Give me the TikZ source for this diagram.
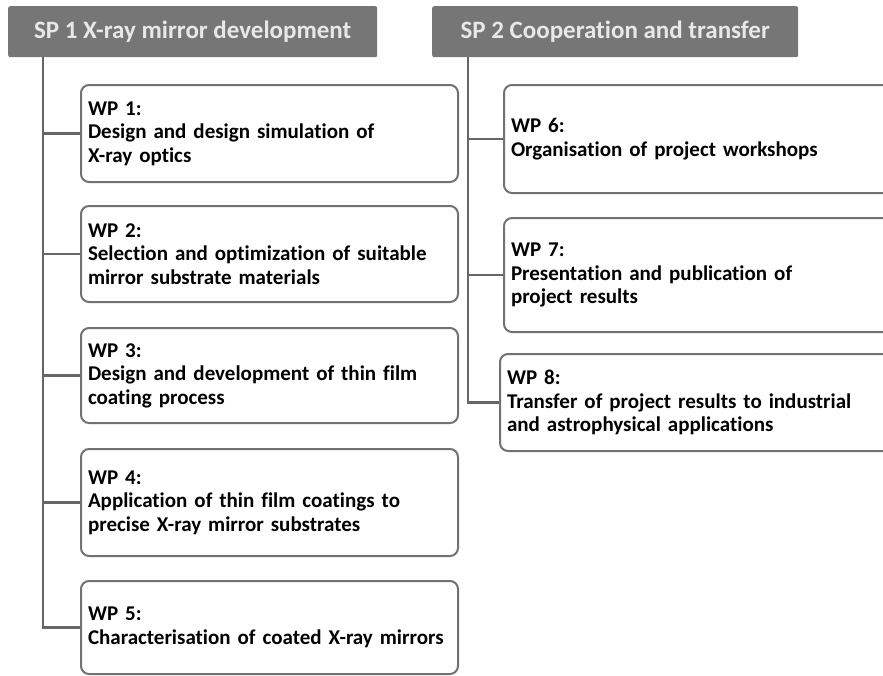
\documentclass[tikz,border=0pt]{standalone}
\usepackage{fontspec}
\setmainfont{Carlito}[Ligatures={NoCommon}]
\begin{document}
\begin{tikzpicture}[x=1pt,y=-1pt,
  header/.style={fill=hdrgray, rounded corners=2pt, anchor=north west, inner sep=0pt,
    font=\fontsize{25}{29}\selectfont\bfseries, text=hdrtext},
  wpbox/.style={draw=boxgray, line width=2pt, rounded corners=8pt, fill=white,
    anchor=north west, inner xsep=7pt, inner ysep=0pt, align=left,
    font=\fontsize{21}{23.5}\selectfont\bfseries, text=black},
  conn/.style={draw=linegray, line width=2.4pt}]
\definecolor{hdrgray}{HTML}{767676}
\definecolor{hdrtext}{HTML}{E8E8E8}
\definecolor{boxgray}{HTML}{727272}
\definecolor{linegray}{HTML}{666666}
\useasboundingbox (0,0) rectangle (883,675);
\clip (0,0) rectangle (883,675);
% headers
\node[header, minimum width=369pt, minimum height=51pt] (sp1) at (8,6) {SP 1 X-ray mirror development};
\node[header, minimum width=366pt, minimum height=51pt] (sp2) at (432,6) {SP 2 Cooperation and transfer};
% left boxes
\node[wpbox, minimum width=377pt, minimum height=97pt, text width=363pt] (wp1) at (80,84) {WP 1:\\Design and design simulation of\\X-ray optics};
\node[wpbox, minimum width=377pt, minimum height=96pt, text width=363pt] (wp2) at (80,205) {WP 2:\\Selection and optimization of suitable\\mirror substrate materials};
\node[wpbox, minimum width=377pt, minimum height=95pt, text width=363pt] (wp3) at (80,327) {WP 3:\\Design and development of thin film\\coating process};
\node[wpbox, minimum width=377pt, minimum height=107pt, text width=363pt] (wp4) at (80,448) {WP 4:\\Application of thin film coatings to\\precise X-ray mirror substrates};
\node[wpbox, minimum width=377pt, minimum height=93pt, text width=363pt] (wp5) at (80,580) {WP 5:\\Characterisation of coated X-ray mirrors};
% right boxes
\node[wpbox, minimum width=400pt, minimum height=108pt, text width=386pt] (wp6) at (503,84) {WP 6:\\Organisation of project workshops};
\node[wpbox, minimum width=400pt, minimum height=114pt, text width=386pt] (wp7) at (503,217) {WP 7:\\Presentation and publication of\\project results};
\node[wpbox, minimum width=404pt, minimum height=97pt, text width=390pt] (wp8) at (499,353) {WP 8:\\Transfer of project results to industrial\\and astrophysical applications};
% connectors
\coordinate (t1) at (43,57);
\coordinate (t2) at (468,57);
\draw[conn] (t1) |- (wp5.west);
\foreach \n in {wp1,wp2,wp3,wp4} \draw[conn] (\n.west) -- (\n.west -| t1);
\draw[conn] (t2) |- (wp8.west);
\foreach \n in {wp6,wp7} \draw[conn] (\n.west) -- (\n.west -| t2);
\end{tikzpicture}
\end{document}
